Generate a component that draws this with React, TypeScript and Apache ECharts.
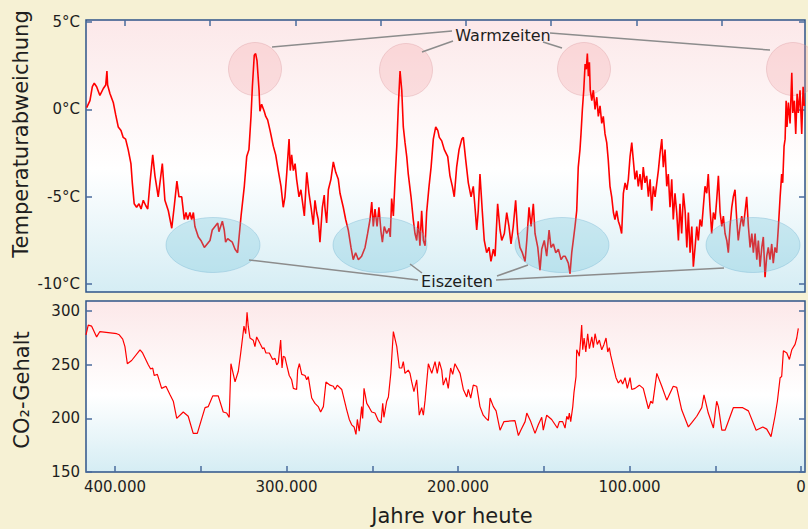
import React, { useEffect, useRef } from "react";
import * as echarts from "echarts";

// Temperature deviation (°C) vs years before present
const tempYears = [
  416500, 414600, 413200, 412100, 410700, 408800, 406800, 405400, 404700, 404300,
  402900, 401000, 399600, 398100, 396500, 395200, 393800, 392300, 390700, 389900,
  388800, 387400, 386000, 384800, 383500, 382100, 380900, 379600, 378000, 376700,
  374800, 372400, 370900, 368900, 366900, 365400, 363900, 362700, 361100, 359600,
  358600, 357600, 356300, 355300, 354300, 353400, 351400, 349900, 347900, 344600,
  343300, 341700, 340100, 339400, 337400, 336300, 335500, 334300, 333000, 331600,
  330000, 328500, 326500, 324600, 323200, 321900, 320700, 319900, 318800, 318000,
  317200, 316000, 315500, 314500, 313000, 312100, 311000, 309600, 307700, 306300,
  304800, 303200, 301900, 300900, 299900, 298500, 297800, 297000, 296000, 295000,
  294100, 292700, 291600, 290800, 289600, 288200, 286900, 285700, 284400, 283400,
  282400, 281500, 280500, 279100, 278000, 277600, 276600, 275600, 274100, 272700,
  271300, 269800, 268800, 266900, 265500, 264000, 262400, 261100, 259700, 258100,
  256200, 254200, 252700, 251300, 250300, 249400, 248400, 247200, 246100, 244900,
  244100, 243000, 241600, 240200, 239500, 238700, 237700, 236700, 235700, 234800,
  233800, 232800, 231900, 230900, 229900, 229000, 227400, 226100, 225100, 224100,
  223200, 222200, 221200, 220200, 219200, 218300, 216900, 215700, 214400, 213000,
  211800, 210900, 209500, 208000, 206000, 204700, 203300, 202200, 200800, 199400,
  197800, 196900, 195500, 194000, 192400, 191100, 190100, 189100, 188200, 187200,
  185800, 184700, 183300, 181900, 180800, 179400, 178400, 176900, 175500, 174500,
  173000, 171600, 170300, 169100, 167800, 166400, 165200, 163900, 162500, 160900,
  159900, 158600, 157400, 156100, 155100, 153500, 152200, 151200, 149700, 148300,
  146900, 145800, 144400, 143000, 141500, 139900, 138600, 137600, 136600, 135700,
  134700, 133700, 132800, 131800, 130800, 129900, 128900, 128300, 127500, 126700,
  125900, 125200, 124600, 124000, 123400, 122900, 122000, 121100, 120100, 119100,
  118200, 117200, 116200, 115300, 114300, 113300, 112400, 111400, 110400, 109400,
  108500, 107500, 106500, 105500, 104600, 103600, 102600, 101600, 100700, 99700,
  98700, 97800, 96800, 95800, 94900, 93900, 92900, 92000, 91000, 90000,
  89000, 88000, 87100, 86100, 85100, 84100, 83200, 82200, 81200, 80300,
  79300, 78300, 77400, 76400, 75400, 74500, 73500, 72500, 71500, 70600,
  69600, 68600, 67600, 66600, 65700, 64700, 63700, 62800, 61800, 60800,
  59900, 58900, 57900, 57000, 56000, 55000, 54100, 53100, 52100, 51100,
  50100, 49200, 48200, 47200, 46200, 45300, 44300, 43300, 42400, 41400,
  40400, 39500, 38500, 37500, 36600, 35600, 34600, 33600, 32700, 31700,
  30700, 29700, 28700, 27800, 26800, 25800, 24900, 23900, 22900, 22000,
  21000, 20000, 19100, 18100, 17100, 16200, 15200, 14200, 13200, 12200,
  11300, 10700, 9900, 9300, 8700, 8200, 7400, 6400, 5400, 4800,
  3900, 3100, 2300, 1600, 600, -400, -1200, -1900,
];
const tempValues = [
  0.1, 0.5, 1.3, 1.5, 1.3, 0.8, 1.2, 1.4, 2.2, 1.4,
  0.9, 0.4, -0.3, -1.0, -1.2, -1.6, -1.7, -2.3, -3.1, -4.2,
  -5.4, -5.6, -5.4, -5.7, -5.2, -5.5, -5.7, -4.2, -2.6, -3.8,
  -5.0, -3.1, -5.2, -5.8, -6.8, -5.5, -4.1, -5.0, -5.0, -6.3,
  -5.9, -6.3, -5.9, -6.3, -5.9, -6.7, -7.3, -7.5, -7.9, -7.5,
  -6.9, -6.7, -6.5, -7.0, -6.4, -6.9, -7.6, -7.4, -7.5, -7.6,
  -8.0, -8.2, -6.1, -4.4, -2.7, -2.3, -0.4, 1.3, 3.1, 3.2,
  2.8, 1.1, -0.1, 0.3, -0.1, -0.4, -0.6, -1.2, -2.1, -2.6,
  -3.5, -4.4, -5.6, -5.0, -3.7, -1.7, -3.5, -2.6, -3.5, -3.1,
  -4.0, -5.0, -4.6, -5.2, -6.1, -3.6, -4.8, -5.6, -6.6, -5.2,
  -5.9, -6.3, -7.6, -5.6, -4.9, -5.6, -6.5, -4.6, -4.0, -3.0,
  -3.6, -4.0, -4.8, -5.6, -6.3, -6.9, -7.9, -8.6, -8.2, -8.6,
  -8.4, -7.9, -7.1, -6.3, -5.3, -6.7, -5.7, -6.7, -5.6, -7.0,
  -7.6, -6.7, -7.1, -6.8, -7.3, -5.1, -6.1, -4.0, -2.1, 0.2,
  2.2, 1.1, -1.0, -1.9, -2.7, -3.7, -5.0, -6.3, -7.1, -7.5,
  -6.4, -7.8, -5.8, -7.5, -7.8, -5.9, -4.4, -3.3, -1.7, -1.0,
  -1.2, -1.6, -1.8, -2.3, -2.7, -3.8, -4.4, -5.0, -3.3, -2.3,
  -1.7, -1.6, -2.9, -4.2, -5.0, -4.4, -5.6, -6.9, -5.8, -3.7,
  -5.9, -7.5, -8.2, -7.9, -8.7, -8.0, -8.4, -5.4, -6.9, -7.5,
  -7.1, -5.9, -6.7, -7.7, -6.7, -5.2, -7.1, -7.9, -8.2, -8.7,
  -7.5, -5.6, -6.7, -5.4, -7.1, -7.9, -9.2, -8.0, -7.5, -8.4,
  -6.9, -7.9, -7.7, -8.2, -8.0, -8.6, -8.4, -8.4, -8.6, -8.8,
  -9.4, -8.2, -7.5, -6.7, -5.8, -3.3, -2.3, -1.4, 0.0, 1.1,
  2.6, 2.3, 3.2, 1.9, 2.7, 1.1, 0.5, 1.1, 0.0, 0.7,
  -0.4, 0.2, -0.8, -0.4, -1.4, -1.9, -2.9, -4.4, -5.0, -5.9,
  -6.3, -5.8, -6.4, -6.7, -7.1, -4.8, -4.2, -4.6, -4.0, -2.7,
  -1.9, -2.9, -4.0, -3.5, -4.4, -3.7, -4.6, -3.3, -4.2, -3.8,
  -5.0, -4.0, -5.8, -4.4, -5.0, -4.2, -3.5, -2.5, -1.7, -3.3,
  -2.3, -4.4, -3.7, -5.6, -4.0, -6.3, -4.8, -5.9, -7.5, -5.4,
  -7.1, -4.8, -5.8, -7.9, -5.9, -8.2, -6.7, -9.0, -7.9, -6.7,
  -7.5, -6.3, -6.7, -5.6, -4.4, -4.8, -3.7, -5.6, -7.1, -5.9,
  -6.3, -5.2, -3.8, -5.9, -6.7, -6.1, -7.1, -7.5, -8.2, -6.7,
  -5.6, -5.0, -4.6, -6.3, -7.5, -6.7, -6.1, -6.7, -5.9, -5.0,
  -6.7, -7.9, -7.1, -8.2, -7.1, -8.6, -7.5, -9.0, -7.9, -7.3,
  -9.6, -8.4, -7.9, -8.6, -7.7, -8.8, -7.9, -8.2, -6.7, -5.0,
  -3.7, -4.2, -2.1, -1.7, 0.5, -1.0, 0.4, -0.8, 2.1, -0.2,
  0.5, -1.4, 0.9, -0.2, 1.1, -1.4, 1.3, 0.2,
];

// CO2 content (ppmv) vs years before present
const co2Years = [
  416900, 415600, 413600, 410700, 408800, 399000, 397500, 395500, 394200, 392800,
  390300, 385400, 383900, 380600, 379200, 378000, 377100, 375300, 372800, 370300,
  367900, 366000, 364000, 360200, 357300, 354400, 352000, 347500, 345600, 343000,
  339800, 336900, 334900, 333400, 332400, 330000, 328100, 326700, 324800, 323800,
  323000, 322300, 321300, 319400, 318400, 317400, 315500, 313900, 313100, 312000,
  310000, 308100, 306700, 305700, 304800, 303400, 302600, 301900, 300900, 299900,
  298400, 297000, 296000, 294100, 293500, 292500, 291100, 289200, 288200, 287300,
  285300, 283400, 281500, 280100, 278500, 277000, 274600, 272700, 271700, 270400,
  267800, 264900, 263400, 262000, 260600, 259500, 258700, 257600, 256200, 255600,
  254800, 253200, 251700, 250300, 248400, 246500, 244900, 243900, 243200, 241600,
  240600, 239200, 237700, 235700, 234200, 232800, 231900, 230900, 229000, 228000,
  227000, 225700, 224100, 222600, 221200, 220200, 219200, 217300, 215300, 213400,
  212100, 210900, 209500, 208600, 207000, 205700, 204300, 203100, 201800, 198800,
  196900, 194900, 194000, 192600, 191100, 189100, 187200, 185300, 183700, 182300,
  181300, 179400, 177800, 175500, 173200, 166800, 165800, 164800, 163400, 160900,
  159900, 157600, 155100, 153200, 151200, 150300, 148300, 145400, 142100, 140900,
  139000, 137600, 136600, 135700, 135100, 134300, 133100, 132400, 131200, 130800,
  129900, 129300, 128500, 127900, 127300, 126500, 125500, 124400, 123400, 122000,
  121100, 120100, 118800, 117600, 116200, 114900, 113700, 112700, 111800, 111000,
  109400, 107900, 106500, 105100, 104000, 102600, 101300, 99700, 98700, 96800,
  94300, 92000, 89000, 87600, 86500, 84100, 81200, 78300, 74500, 72500,
  69600, 65700, 63700, 60800, 57900, 56600, 54100, 51100, 49200, 48200,
  46200, 44300, 39500, 34000, 30700, 26200, 22300, 20000, 17500, 15200,
  13800, 12200, 11300, 10300, 8300, 6800, 5400, 3500, 2500, 1600,
];
const co2Values = [
  278, 287, 286, 276, 281, 279, 278, 274, 267, 251,
  254, 264, 261, 250, 246, 247, 240, 241, 228, 230,
  222, 216, 200, 206, 202, 186, 186, 210, 211, 221,
  221, 206, 205, 201, 251, 234, 244, 261, 286, 279,
  299, 286, 275, 273, 267, 276, 270, 265, 266, 261,
  261, 255, 256, 250, 252, 273, 247, 258, 257, 250,
  240, 236, 228, 227, 245, 251, 241, 240, 236, 239,
  219, 214, 211, 206, 211, 234, 231, 230, 227, 231,
  227, 208, 199, 194, 192, 185, 199, 188, 211, 200,
  228, 214, 210, 206, 205, 198, 196, 214, 201, 216,
  220, 242, 281, 267, 247, 247, 253, 242, 245, 242,
  234, 225, 236, 203, 210, 203, 217, 251, 242, 253,
  242, 253, 245, 231, 238, 228, 247, 241, 251, 242,
  227, 220, 227, 219, 231, 230, 211, 203, 200, 198,
  219, 211, 207, 189, 197, 198, 191, 184, 189, 197,
  205, 197, 186, 194, 201, 189, 203, 199, 191, 197,
  197, 191, 202, 199, 205, 197, 211, 224, 239, 264,
  261, 258, 273, 287, 264, 275, 262, 279, 265, 276,
  266, 279, 269, 273, 264, 269, 275, 262, 266, 259,
  248, 238, 233, 236, 232, 238, 228, 238, 227, 228,
  231, 228, 209, 216, 214, 242, 230, 217, 230, 229,
  208, 192, 196, 202, 210, 222, 205, 191, 216, 211,
  189, 189, 210, 210, 207, 189, 192, 190, 183, 202,
  216, 238, 239, 263, 261, 255, 264, 269, 275, 284,
];

// Axis ticks and labels
const tempTicks = [-10, -5, 0, 5];
const co2Ticks = [150, 200, 250, 300];
const yearLabels = [0, 100000, 200000, 300000, 400000];
const yearTicks = [0, 50000, 100000, 150000, 200000, 250000, 300000, 350000, 400000];
const topYearTicks = [394200, 344500, 294800, 245100, 195400, 145700, 96000, 46300];

const X_MIN = -2300;
const X_MAX = 416900;

export default function App() {
  const ref = useRef<HTMLDivElement>(null);

  useEffect(() => {
    document.body.style.margin = "0";
    const chart = echarts.init(ref.current!, null, { renderer: "svg" });
    const axisColor = "#2f5489";
    const tickColor = "#4a6b9c";
    const font = "DejaVu Sans";
    const textColor = "#1e1e1e";
    const bg = () =>
      new echarts.graphic.LinearGradient(0, 0, 0, 1, [
        { offset: 0, color: "#fce8e9" },
        { offset: 0.55, color: "#ffffff" },
        { offset: 1, color: "#d5edf4" },
      ]);

    const yearFmt = (v: number) => (v === 0 ? "0" : `${Math.round(v / 1000)}.000`);

    const xAxisBase = {
      type: "value" as const,
      inverse: true,
      min: X_MIN,
      max: X_MAX,
      axisLine: { show: false, onZero: false },
      splitLine: { show: false },
    };
    const yAxisBase = {
      type: "value" as const,
      axisLine: { show: false, onZero: false },
      splitLine: { show: false },
    };
    const tick = (vals: number[]) => ({
      show: true,
      inside: true,
      length: 6,
      customValues: vals,
      lineStyle: { color: tickColor, width: 1.5 },
    });

    const pink = { fill: "rgba(245,150,155,0.25)", stroke: "rgba(215,150,155,0.35)", lineWidth: 1 };
    const blue = { fill: "rgba(100,190,215,0.28)", stroke: "rgba(110,175,205,0.35)", lineWidth: 1 };
    const lineStyle = { stroke: "#8c8c8c", lineWidth: 1.5 };

    const pinkCenters = [
      [255, 69],
      [406, 70],
      [584, 69],
      [793, 69],
    ];
    const blueCenters = [
      [213, 245],
      [380, 245],
      [562, 245],
      [753, 245],
    ];
    const warmLines = [
      [272, 47, 452, 31],
      [422, 52, 453, 41],
      [543, 42, 562, 48],
      [550, 33, 770, 50],
    ];
    const iceLines = [
      [249, 260, 418, 280],
      [410, 264, 422, 273],
      [497, 276, 528, 265],
      [496, 280, 724, 268],
    ];

    const graphic: any[] = [
      ...pinkCenters.map(([cx, cy]) => ({
        type: "circle",
        shape: { cx, cy, r: 26.5 },
        style: pink,
        z: 1,
        silent: true,
      })),
      ...blueCenters.map(([cx, cy]) => ({
        type: "ellipse",
        shape: { cx, cy, rx: 47, ry: 27.5 },
        style: blue,
        z: 10,
        silent: true,
      })),
      ...warmLines.concat(iceLines).map(([x1, y1, x2, y2]) => ({
        type: "line",
        shape: { x1, y1, x2, y2 },
        style: lineStyle,
        z: 11,
        silent: true,
      })),
      {
        type: "text",
        x: 503,
        y: 35,
        z: 12,
        style: { text: "Warmzeiten", fontSize: 16, fontFamily: font, fill: textColor, align: "center", verticalAlign: "middle" },
      },
      {
        type: "text",
        x: 457,
        y: 281,
        z: 12,
        style: { text: "Eiszeiten", fontSize: 16, fontFamily: font, fill: textColor, align: "center", verticalAlign: "middle" },
      },
      {
        type: "text",
        x: 21,
        y: 134,
        rotation: Math.PI / 2,
        z: 12,
        style: { text: "Temperaturabweichung", fontSize: 21, fontFamily: font, fill: textColor, align: "center", verticalAlign: "middle" },
      },
      {
        type: "text",
        x: 22,
        y: 390,
        rotation: Math.PI / 2,
        z: 12,
        style: { text: "CO₂-Gehalt", fontSize: 21, fontFamily: font, fill: textColor, align: "center", verticalAlign: "middle" },
      },
      {
        type: "text",
        x: 452,
        y: 516,
        z: 12,
        style: { text: "Jahre vor heute", fontSize: 21, fontFamily: font, fill: textColor, align: "center", verticalAlign: "middle" },
      },
    ];

    chart.setOption({
      animation: false,
      backgroundColor: "#f6f1d4",
      grid: [
        { left: 86, top: 20, width: 719, height: 272, show: true, backgroundColor: bg(), borderColor: axisColor, borderWidth: 1.5, z: 0, outerBoundsMode: "none", containLabel: false },
        { left: 86, top: 301, width: 719, height: 171, show: true, backgroundColor: bg(), borderColor: axisColor, borderWidth: 1.5, z: 0, outerBoundsMode: "none", containLabel: false },
      ],
      xAxis: [
        {
          ...xAxisBase,
          gridIndex: 0,
          position: "top",
          axisLabel: { show: false },
          axisTick: tick(topYearTicks),
        },
        {
          ...xAxisBase,
          gridIndex: 1,
          position: "bottom",
          axisTick: tick(yearTicks),
          axisLabel: {
            customValues: yearLabels,
            formatter: yearFmt,
            color: textColor,
            fontSize: 15,
            fontFamily: font,
            margin: 7,
          },
        },
      ],
      yAxis: [
        {
          ...yAxisBase,
          gridIndex: 0,
          position: "left",
          min: -10.45,
          max: 5.12,
          axisTick: tick(tempTicks),
          axisLabel: {
            customValues: tempTicks,
            formatter: (v: number) => `${v}°C`,
            color: textColor,
            fontSize: 15,
            fontFamily: font,
            margin: 6,
          },
        },
        {
          ...yAxisBase,
          gridIndex: 0,
          position: "right",
          min: -10.45,
          max: 5.12,
          axisTick: tick(tempTicks),
          axisLabel: { show: false },
        },
        {
          ...yAxisBase,
          gridIndex: 1,
          position: "left",
          min: 150,
          max: 309.5,
          axisTick: tick(co2Ticks),
          axisLabel: {
            customValues: co2Ticks,
            color: textColor,
            fontSize: 15,
            fontFamily: font,
            margin: 6,
          },
        },
        {
          ...yAxisBase,
          gridIndex: 1,
          position: "right",
          min: 150,
          max: 309.5,
          axisTick: tick(co2Ticks),
          axisLabel: { show: false },
        },
      ],
      series: [
        {
          type: "line",
          xAxisIndex: 0,
          yAxisIndex: 0,
          data: tempYears.map((y, i) => [y, tempValues[i]]),
          symbol: "none",
          lineStyle: { color: "#ff0000", width: 1.6 },
          z: 3,
          silent: true,
        },
        {
          type: "line",
          xAxisIndex: 1,
          yAxisIndex: 2,
          data: co2Years.map((y, i) => [y, co2Values[i]]),
          symbol: "none",
          lineStyle: { color: "#ff0000", width: 1.2 },
          z: 3,
          silent: true,
        },
      ],
      graphic,
    });

    return () => chart.dispose();
  }, []);

  return <div ref={ref} style={{ width: 808, height: 529 }} />;
}
